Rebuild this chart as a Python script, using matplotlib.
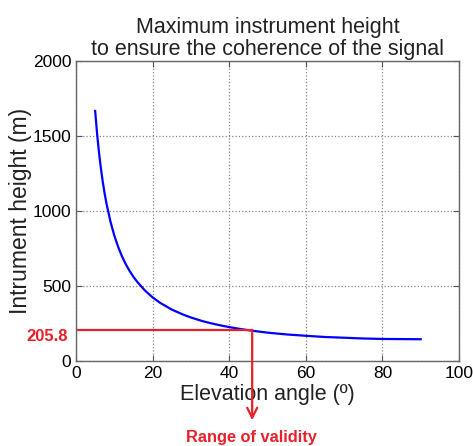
import matplotlib
matplotlib.use("Agg")
import matplotlib.pyplot as plt

plt.rcParams['font.family'] = ['Liberation Sans', 'DejaVu Sans']

# values
angle = [5, 5.5, 6, 6.5, 7, 7.5, 8, 9, 10, 11, 12, 13, 14, 15, 16, 18, 20,
         22, 25, 28, 30, 33, 35, 38, 40, 43, 45, 50, 55, 60, 65, 70, 75,
         80, 85, 90]
height = [1667, 1516, 1390, 1284, 1192, 1113, 1044, 929, 836, 761, 698,
          645, 600, 561, 527, 470, 424, 387, 343, 309, 290, 266, 253, 236,
          226, 213, 205, 189, 177, 168, 160, 155, 150, 147, 146, 145]

limit_angle = 46
limit_height = 205.8

fig = plt.figure(figsize=(4.73, 4.46), dpi=100)
ax = fig.add_axes([0.1607, 0.1906, 0.8097, 0.6726])

ax.plot(angle, height, color="#0000ff", lw=1.6)
ax.plot([0, limit_angle], [limit_height, limit_height], color="#e8202a", lw=1.6)
ax.annotate("", xy=(limit_angle, -395), xytext=(limit_angle, limit_height),
            arrowprops=dict(arrowstyle="->", color="#e8202a", lw=1.6,
                            mutation_scale=18, shrinkA=0, shrinkB=0),
            annotation_clip=False)

ax.set_xlim(0, 100)
ax.set_ylim(0, 2000)
ax.set_xticks([0, 20, 40, 60, 80, 100])
ax.set_yticks([0, 500, 1000, 1500, 2000])
ax.grid(True, linestyle=":", color="#888888", lw=0.9)
ax.tick_params(direction="in", top=True, right=True, labelsize=12.5,
               length=4, color="#555555")
for s in ax.spines.values():
    s.set_color("#666666")
    s.set_linewidth(1.0)

ax.set_title("Maximum instrument height\nto ensure the coherence of the signal",
             fontsize=15.5, pad=4, color="#222222", linespacing=1.1)
ax.set_xlabel("Elevation angle (\u00ba)", fontsize=15.5, labelpad=2, color="#222222")
ax.set_ylabel("Intrument height (m)", fontsize=16.5, labelpad=0, color="#222222")

ax.text(-0.02, limit_height - 45, "205.8", color="#e8202a", fontsize=12,
        fontweight="bold", ha="right", va="center",
        transform=ax.get_yaxis_transform())
ax.text(45.7, -510, "Range of validity", color="#e8202a",
        fontsize=11.8, fontweight="bold", ha="center", va="center")

fig.savefig("out.png", dpi=100)
